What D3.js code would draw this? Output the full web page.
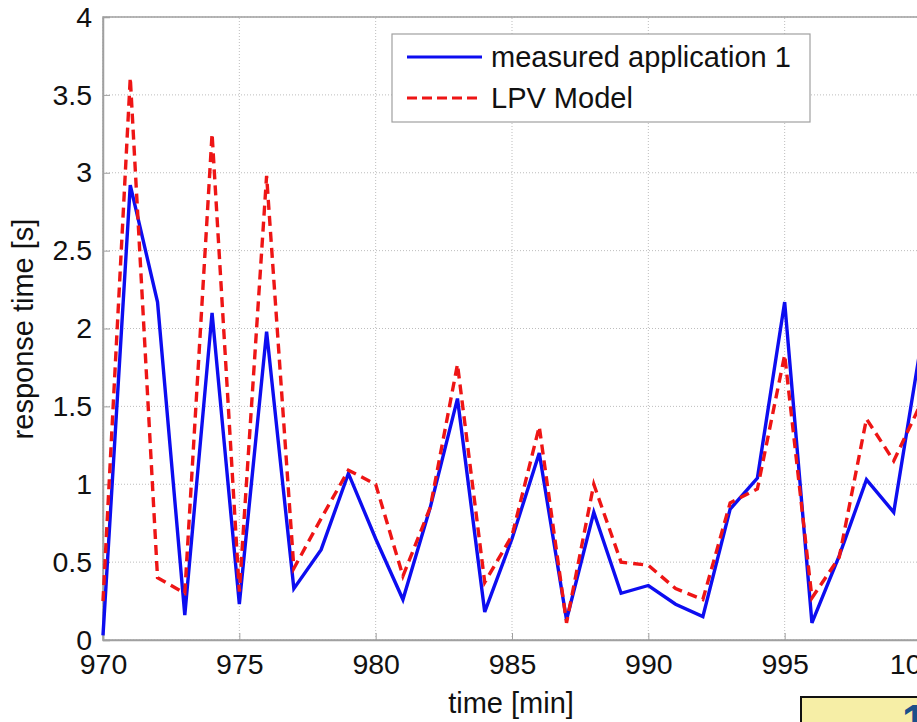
<!DOCTYPE html>
<html>
<head>
<meta charset="utf-8">
<script src="https://cdn.jsdelivr.net/npm/d3@7"></script>
<style>
  html, body { margin: 0; padding: 0; background: #fff; overflow: hidden; }
  svg { display: block; font-family: "Liberation Sans", Arial, sans-serif; }
</style>
</head>
<body>
<svg id="chart" width="917" height="722"></svg>
<script>
// ---- data ----
const times = [970,971,972,973,974,975,976,977,978,979,980,981,982,983,984,985,986,987,988,989,990,991,992,993,994,995,996,997,998,999,1000];
const measured = [0.03,2.92,2.17,0.16,2.10,0.23,1.98,0.33,0.58,1.07,0.65,0.26,0.85,1.55,0.18,0.65,1.20,0.13,0.82,0.30,0.35,0.23,0.15,0.84,1.04,2.17,0.11,0.54,1.03,0.82,1.90];
const lpv      = [0.25,3.61,0.40,0.30,3.25,0.31,2.98,0.46,0.78,1.09,1.00,0.41,0.85,1.77,0.37,0.67,1.37,0.11,1.00,0.50,0.48,0.33,0.26,0.88,0.97,1.83,0.27,0.53,1.42,1.15,1.52];
const xTicks = [970,975,980,985,990,995,1000];
const yTicks = [0,0.5,1,1.5,2,2.5,3,3.5,4];
const seriesNames = ["measured application 1", "LPV Model"];
const xLabel = "time [min]";
const yLabel = "response time [s]";

// ---- layout ----
const svg = d3.select("#chart");
const x = d3.scaleLinear().domain([970, 1000]).range([103, 921]);
const y = d3.scaleLinear().domain([0, 4]).range([640, 17]);
const fontSize = 28.5;

// grid
const grid = svg.append("g");
grid.selectAll("line.vg").data(xTicks).join("line")
  .attr("x1", d => x(d)).attr("x2", d => x(d))
  .attr("y1", y(0)).attr("y2", y(4))
  .attr("stroke", "#bdbdbd").attr("stroke-width", 1).attr("stroke-dasharray", "1,2");
grid.selectAll("line.hg").data(yTicks).join("line")
  .attr("x1", x(970)).attr("x2", x(1000))
  .attr("y1", d => y(d)).attr("y2", d => y(d))
  .attr("stroke", "#bdbdbd").attr("stroke-width", 1).attr("stroke-dasharray", "1,2");

// box
svg.append("rect")
  .attr("x", x(970)).attr("y", y(4))
  .attr("width", x(1000) - x(970)).attr("height", y(0) - y(4))
  .attr("fill", "none").attr("stroke", "#a0a0a0").attr("stroke-width", 1.5);

// axes
const xAxis = d3.axisBottom(x).tickValues(xTicks).tickSize(-7).tickPadding(14).tickFormat(d3.format("d"));
const gx = svg.append("g").attr("transform", `translate(0,${y(0)})`).call(xAxis);
gx.select(".domain").attr("stroke", "#a0a0a0").attr("stroke-width", 1.5);
gx.selectAll(".tick line").attr("stroke", "#a0a0a0");
gx.selectAll("text").attr("font-size", fontSize).attr("fill", "#111").attr("font-family", "Liberation Sans, Arial, sans-serif");

const yAxis = d3.axisLeft(y).tickValues(yTicks).tickSize(-7).tickPadding(11).tickFormat(d3.format("~g"));
const gy = svg.append("g").attr("transform", `translate(${x(970)},0)`).call(yAxis);
gy.select(".domain").attr("stroke", "#a0a0a0").attr("stroke-width", 1.5);
gy.selectAll(".tick line").attr("stroke", "#a0a0a0");
gy.selectAll("text").attr("font-size", fontSize).attr("fill", "#111").attr("font-family", "Liberation Sans, Arial, sans-serif");

// lines
const data = times.map((t, i) => ({t, m: measured[i], l: lpv[i]}));
const lineM = d3.line().x(d => x(d.t)).y(d => y(d.m));
const lineL = d3.line().x(d => x(d.t)).y(d => y(d.l));
svg.append("path").datum(data).attr("d", lineM)
  .attr("fill", "none").attr("stroke", "#0d0df0").attr("stroke-width", 3.4).attr("stroke-linejoin", "miter");
svg.append("path").datum(data).attr("d", lineL)
  .attr("fill", "none").attr("stroke", "#ee1515").attr("stroke-width", 3.4).attr("stroke-dasharray", "10,6");

// labels
svg.append("text").attr("x", 511).attr("y", 713).attr("text-anchor", "middle")
  .attr("font-size", 29).attr("fill", "#111").text(xLabel);
svg.append("text").attr("transform", "translate(33,329) rotate(-90)").attr("text-anchor", "middle")
  .attr("font-size", 29).attr("fill", "#111").text(yLabel);

// legend
const lg = svg.append("g");
lg.append("rect").attr("x", 392).attr("y", 34).attr("width", 418).attr("height", 88)
  .attr("fill", "#fff").attr("stroke", "#a0a0a0").attr("stroke-width", 1.2);
const legendItems = [
  {name: seriesNames[0], color: "#0d0df0", dash: null, yy: 57},
  {name: seriesNames[1], color: "#ee1515", dash: "10,5", yy: 98}
];
legendItems.forEach(it => {
  lg.append("line").attr("x1", 407).attr("x2", 482).attr("y1", it.yy).attr("y2", it.yy)
    .attr("stroke", it.color).attr("stroke-width", 3.2).attr("stroke-dasharray", it.dash);
  lg.append("text").attr("x", 491).attr("y", it.yy + 10).attr("font-size", 29).attr("fill", "#111").text(it.name);
});

// yellow callout box (partially visible)
svg.append("rect").attr("x", 801).attr("y", 697).attr("width", 200).attr("height", 60)
  .attr("fill", "#f6eea6").attr("stroke", "#111").attr("stroke-width", 2);
svg.append("text").attr("x", 902).attr("y", 736).attr("font-size", 44).attr("font-weight", "bold")
  .attr("fill", "#1b4f8a").text("1");
</script>
</body>
</html>
